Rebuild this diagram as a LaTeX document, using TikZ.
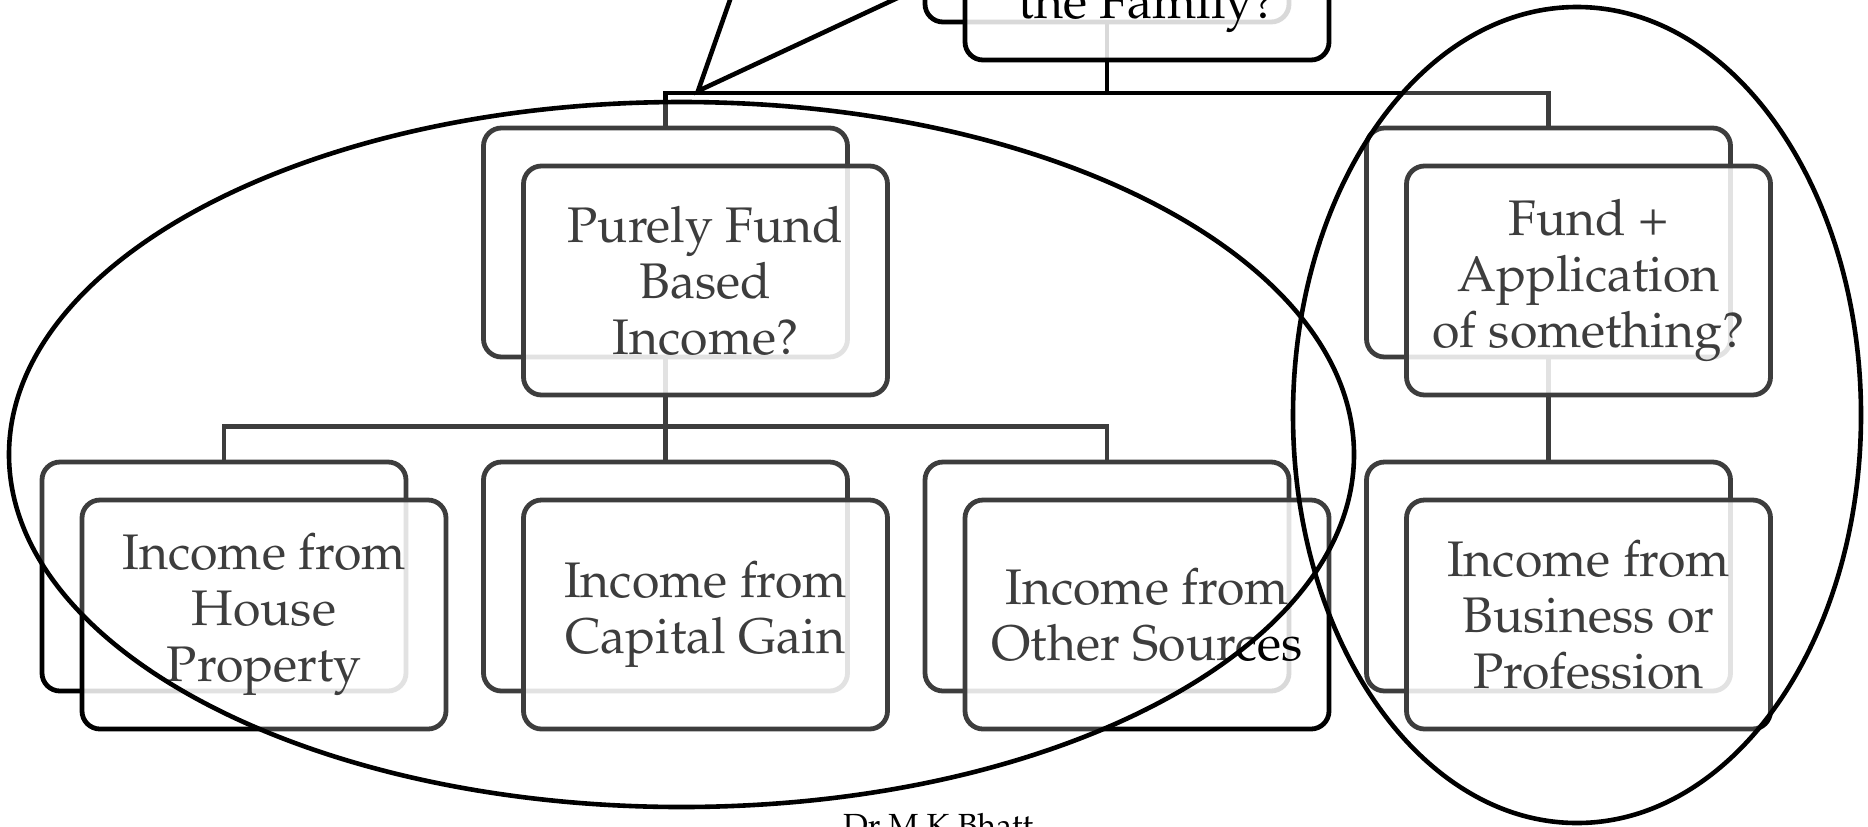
\documentclass[tikz,border=0pt]{standalone}
\usepackage[T1]{fontenc}
\usepackage{mathpazo}
\usetikzlibrary{backgrounds}
\newcommand\boxfont{\fontsize{25}{28}\selectfont}
\begin{document}
\begin{tikzpicture}[x=0.5pt,y=-0.5pt,
  backbox/.style={draw=black, line width=2.4pt, rounded corners=9pt, fill=white,
    minimum width=182pt, minimum height=114.5pt, inner sep=0pt, outer sep=0pt},
  frontbox/.style={draw=black, line width=2.4pt, rounded corners=9pt, fill=white,
    fill opacity=0.85, draw opacity=1, text opacity=1,
    minimum width=182pt, minimum height=114.5pt, inner sep=0pt, outer sep=0pt,
    align=center, font=\boxfont},
  conn/.style={line width=2.4pt, draw=black},
  ring/.style={line width=2.3pt, draw=black},
]
\useasboundingbox (0,0) rectangle (1868,826);
\clip (0,0) rectangle (1868,826);

% back boxes
\node[backbox] (tb) at (1107,-92.5) {};
\node[backbox] (pb) at (665.5,242.5) {};
\node[backbox] (rb) at (1548.5,242.5) {};
\node[backbox] (hb) at (224,576.5) {};
\node[backbox] (cb) at (665.5,576.5) {};
\node[backbox] (ob) at (1107,576.5) {};
\node[backbox] (bb) at (1548.5,576.5) {};

% connectors
\begin{pgfonlayer}{background}
\draw[conn] (tb.south) -- ++(0,71) -| (pb.north);
\draw[conn] (tb.south) -- ++(0,71) -| (rb.north);
\draw[conn] (pb.south) -- ++(0,69.5) -| (hb.north);
\draw[conn] (pb.south) -- ++(0,69.5) -| (cb.north);
\draw[conn] (pb.south) -- ++(0,69.5) -| (ob.north);
\draw[conn] (rb.south) -- (bb.north);
\end{pgfonlayer}

% front boxes
\node[frontbox] (tf) at (1147,-54.5) {};
\node[frontbox] (pf) at (705.5,280.5) {Purely Fund\\Based\\Income?};
\node[frontbox] (rf) at (1588.5,280.5) {Fund +\\Application\\of something?};
\node[frontbox] (hf) at (264,614.5) {Income from\\House\\Property};
\node[frontbox] (cf) at (705.5,614.5) {Income from\\Capital Gain};
\node[frontbox] (of) at (1147,614.5) {Income from\\Other Sources};
\node[frontbox] (bf) at (1588.5,614.5) {Income from\\Business or\\Profession};
\node[font=\boxfont, anchor=base] (tt) at (1147,18) {the Family?};

% callout pointer
\coordinate (tip) at (698,91);
\coordinate (ca) at (737,-20);
\coordinate (cc) at (936,-20);
\draw[ring, line join=miter] (ca) -- (tip) -- (cc);

% grey tone inside the two ellipses
\fill[white, fill opacity=0.24]
  (681.5,454.5) ellipse [x radius=336.25pt, y radius=176.25pt]
  (1577,415) ellipse [x radius=142pt, y radius=204pt];

% ellipses
\draw[ring] (681.5,454.5) ellipse [x radius=336.25pt, y radius=176.25pt];
\draw[ring] (1577,415) ellipse [x radius=142pt, y radius=204pt];

\node[font=\fontsize{16}{19}\selectfont, anchor=base] (author) at (938,836) {Dr M K Bhatt};
\end{tikzpicture}
\end{document}
